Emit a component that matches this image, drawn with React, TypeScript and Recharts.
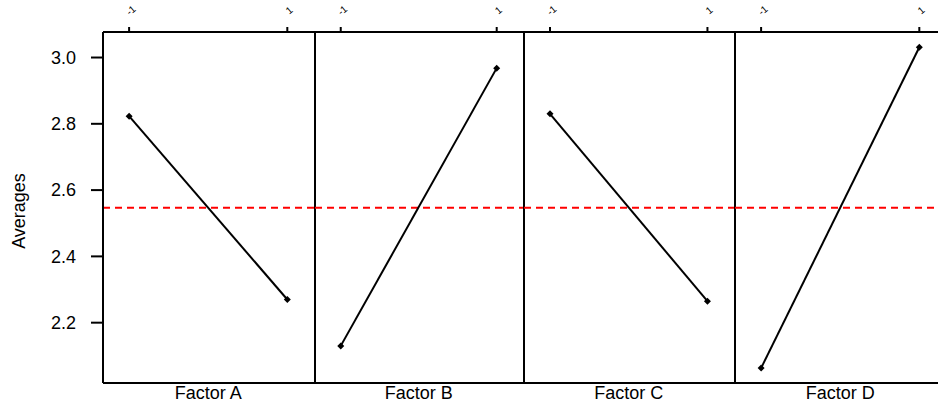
import React from 'react';
import { LineChart, Line, XAxis, YAxis, ReferenceLine } from 'recharts';

// main effects: average response at low (-1) and high (+1) level of each factor
const FACTORS = ['Factor A', 'Factor B', 'Factor C', 'Factor D'];
const LEVELS = [-1, 1];
const LOW_MEANS = [2.823, 2.13, 2.83, 2.063];
const HIGH_MEANS = [2.27, 2.968, 2.265, 3.031];
const GRAND_MEAN = 2.547;
const Y_TICKS = [2.2, 2.4, 2.6, 2.8, 3.0];

const X_DOMAIN: [number, number] = [-1.33, 1.35];
const Y_DOMAIN: [number, number] = [2.018, 3.077];

// page x of each panel and its plot width (first one includes the y axis)
const PANELS = [
  { left: 0, width: 315 },
  { left: 315, width: 209 },
  { left: 524, width: 211 },
  { left: 735, width: 212 },
];
const PAD = 3; // extra room so the right divider isn't cut by the svg edge

const FONT = '"Liberation Sans", Arial, sans-serif';
const BORDER = { stroke: '#000', strokeWidth: 2 };

const TopTick = (props: any) => {
  const { x, payload } = props;
  const tx = x + 4;
  const ty = 13;
  return (
    <text x={tx} y={ty} fontSize={10} fill="#000" textAnchor="middle" transform={`rotate(-40 ${tx} ${ty})`}>
      {payload.value}
    </text>
  );
};

const Diamond = (p: any) => {
  const { cx, cy, index } = p;
  const r = 3.5;
  return <path key={index} d={`M${cx},${cy - r}L${cx + r},${cy}L${cx},${cy + r}L${cx - r},${cy}Z`} fill="#000" />;
};

const Panel = ({ index }: { index: number }) => {
  const first = index === 0;
  const { left, width } = PANELS[index];
  const data = LEVELS.map((level, i) => ({
    level,
    avg: i === 0 ? LOW_MEANS[index] : HIGH_MEANS[index],
  }));

  return (
    <div style={{ position: 'absolute', left, top: 0 }}>
      <LineChart width={width + PAD} height={407} data={data} margin={{ top: 0, right: PAD, bottom: 0, left: 0 }}>
        <XAxis
          xAxisId="top"
          orientation="top"
          dataKey="level"
          type="number"
          domain={X_DOMAIN}
          ticks={LEVELS}
          allowDataOverflow
          height={32}
          tickSize={5}
          axisLine={BORDER}
          tickLine={{ stroke: '#000', strokeWidth: 2 }}
          tick={<TopTick />}
        />
        <XAxis
          xAxisId="bottom"
          orientation="bottom"
          dataKey="level"
          type="number"
          domain={X_DOMAIN}
          ticks={[0]}
          allowDataOverflow
          height={24}
          tickSize={0}
          tickMargin={3}
          tickLine={false}
          axisLine={BORDER}
          tickFormatter={() => FACTORS[index]}
          tick={{ fontSize: 18, fill: '#000' }}
        />
        <YAxis
          hide={!first}
          width={103}
          type="number"
          domain={Y_DOMAIN}
          ticks={Y_TICKS}
          allowDataOverflow
          tickSize={12}
          tickMargin={15}
          axisLine={BORDER}
          tickLine={{ stroke: '#000', strokeWidth: 2 }}
          tickFormatter={(v: number) => v.toFixed(1)}
          tick={{ fontSize: 18, fill: '#000' }}
          label={() => (
            <text x={25} y={211} fontSize={18} fill="#000" textAnchor="middle" transform="rotate(-90 25 211)">
              Averages
            </text>
          )}
        />
        <ReferenceLine xAxisId="top" y={GRAND_MEAN} stroke="#ff0000" strokeWidth={2} strokeDasharray="7 5" />
        <ReferenceLine xAxisId="top" x={X_DOMAIN[1]} stroke="#000" strokeWidth={2} />
        <Line
          xAxisId="top"
          type="linear"
          dataKey="avg"
          stroke="#000"
          strokeWidth={2}
          dot={Diamond}
          activeDot={false}
          isAnimationActive={false}
        />
      </LineChart>
    </div>
  );
};

export default function App() {
  return (
    <div
      style={{
        position: 'absolute',
        left: 0,
        top: 0,
        width: 938,
        height: 407,
        overflow: 'hidden',
        background: '#fff',
        fontFamily: FONT,
      }}
    >
      {FACTORS.map((f, i) => (
        <Panel key={f} index={i} />
      ))}
    </div>
  );
}
